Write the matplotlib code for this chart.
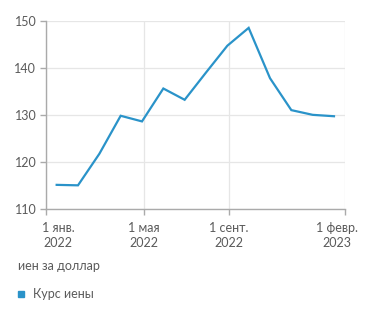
import matplotlib.pyplot as plt
import matplotlib.transforms as mtransforms
import numpy as np

# Курс иены (иен за доллар), помесячно янв. 2022 - февр. 2023
months = np.arange(14) + 0.5
rate = [115.2, 115.1, 121.8, 129.9, 128.7, 135.7, 133.3,
        139.1, 144.8, 148.6, 137.9, 131.1, 130.1, 129.8]

tick_pos = [0, 4.6, 8.57, 14.03]
tick_labels = ['1 янв.\n2022', '1 мая\n2022', '1 сент.\n2022', '1 февр.\n2023']
y_ticks = [110, 120, 130, 140, 150]

line_color = '#2a93c9'
text_color = '#5a5a5a'
axis_color = '#aaaaaa'
grid_color = '#e6e6e6'

plt.rcParams['font.family'] = ['Lato', 'DejaVu Sans']

fig = plt.figure(figsize=(3.71, 3.16), dpi=100)
ax = fig.add_axes([46 / 371, 1 - 209.3 / 316, 299.3 / 371, 188 / 316])

ax.plot(months, rate, color=line_color, linewidth=1.6, solid_joinstyle='miter')

ax.set_xlim(0, 14.03)
ax.set_ylim(110, 150)
ax.set_xticks(tick_pos)
ax.tick_params(axis='x', labelbottom=False)
ax.set_yticks(y_ticks)
ax.set_yticklabels([str(v) for v in y_ticks], fontsize=9, color=text_color)

# подписи оси X вручную: крайние сдвинуты внутрь
shifts = [12, 0, 0, -8.5]
base = ax.get_xaxis_transform()
for pos, lab, dx in zip(tick_pos, tick_labels, shifts):
    tr = mtransforms.offset_copy(base, fig=fig, x=dx, y=-13, units='dots')
    ax.text(pos, 0, lab, transform=tr, ha='center', va='top', fontsize=9,
            color=text_color, linespacing=1.3, clip_on=False)

ax.grid(True, color=grid_color, linewidth=0.9)
ax.set_axisbelow(True)
for side in ['top', 'right']:
    ax.spines[side].set_visible(False)
for side in ['left', 'bottom']:
    ax.spines[side].set_color(axis_color)
    ax.spines[side].set_linewidth(1.0)
ax.tick_params(axis='both', color=axis_color, length=4, width=1.0, pad=3)

fig.text(18 / 371, 1 - 266 / 316, 'иен за доллар', fontsize=9, color=text_color, va='center')
fig.patches.append(plt.Rectangle((18 / 371, 1 - 297 / 316), 6 / 371, 6 / 316,
                                 transform=fig.transFigure, color=line_color))
fig.text(33 / 371, 1 - 294 / 316, 'Курс иены', fontsize=9, color=text_color, va='center')

fig.savefig('out.png', dpi=100)
